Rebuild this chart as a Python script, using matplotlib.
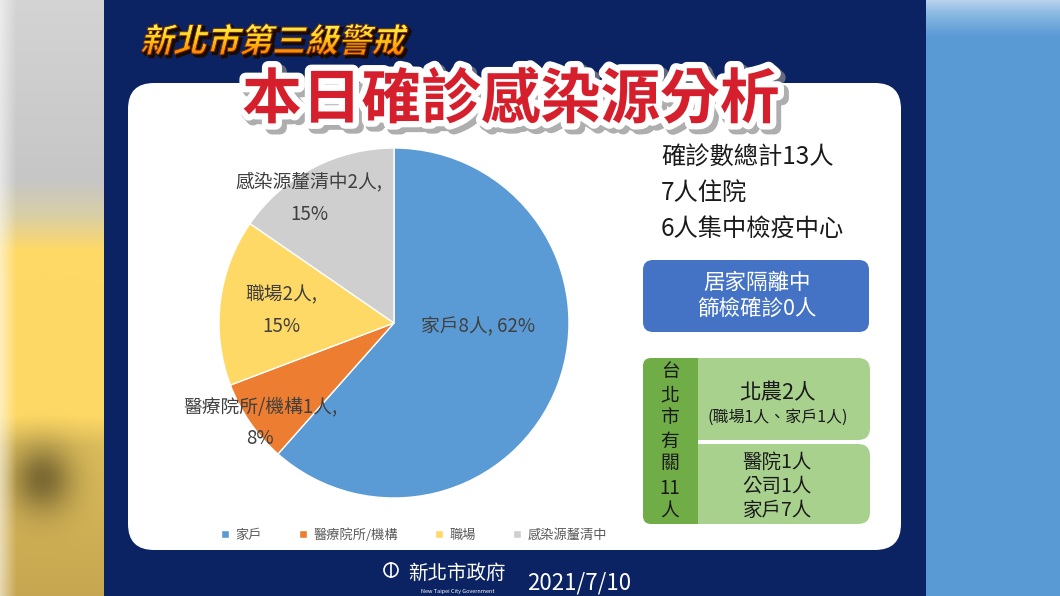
import numpy as np
import matplotlib
matplotlib.use('Agg')
import matplotlib.pyplot as plt
import matplotlib.patheffects as pe
from matplotlib.patches import FancyBboxPatch, PathPatch, Rectangle, Circle
from matplotlib.textpath import TextPath
from matplotlib.font_manager import FontProperties
from matplotlib.transforms import Affine2D
from matplotlib.colors import to_rgb

plt.rcParams['font.family'] = ['Noto Sans CJK TC', 'DejaVu Sans']

# chart data
categories = ['家戶', '醫療院所/機構', '職場', '感染源釐清中']
cases = [8, 1, 2, 2]
slice_colors = ['#5b9bd5', '#ed7d31', '#ffd966', '#cfcfcf']

# side text
subtitle = '新北市第三級警戒'
title = '本日確診感染源分析'
summary_lines = ['確診數總計13人', '7人住院', '6人集中檢疫中心']
quarantine_lines = ['居家隔離中', '篩檢確診0人']
taipei_title = ['台', '北', '市', '有', '關', '11', '人']
beinong_lines = ['北農2人', '(職場1人、家戶1人)']
other_lines = ['醫院1人', '公司1人', '家戶7人']
date_text = '2021/7/10'

W, H = 1060, 596
NAVY = '#0b2362'
TXT = '#404040'

fig = plt.figure(figsize=(W / 100, H / 100), dpi=100)
bg = fig.add_axes([0, 0, 1, 1])
bg.axis('off')
bg.add_patch(Rectangle((0, 0), W, H, color=NAVY, zorder=0))


def ramp(stops, n):
    pos = [p for p, _ in stops]
    cols = np.array([to_rgb(c) for _, c in stops])
    ys = np.arange(n)
    return np.stack([np.interp(ys, pos, cols[:, k]) for k in range(3)], axis=1)


# blurred photo strips on both sides
left_w = 104
col = ramp([(0, '#d4d4d4'), (180, '#c6c6c6'), (215, '#d9cfa6'), (250, '#ffd966'),
            (415, '#ffd966'), (445, '#dcbd5c'), (596, '#c6a650')], H)
img = np.repeat(col[:, None, :], left_w, axis=1)
xx, yy = np.meshgrid(np.arange(left_w), np.arange(H))
blob = np.exp(-((xx - 42) ** 2 / (2 * 22 ** 2) + (yy - 478) ** 2 / (2 * 24 ** 2)))
img = img * (1 - 0.42 * blob)[..., None]
fade = np.clip(1 - xx / 16, 0, 1) * 0.55
img = img * (1 - fade[..., None]) + fade[..., None]
bg.imshow(img, extent=(0, left_w, H, 0), aspect='auto', zorder=1, interpolation='bilinear')

right_x = 926
col = ramp([(0, '#b9d3ec'), (12, '#8dbbe3'), (35, '#5b9bd5'), (596, '#5a9ad4')], H)
img = np.repeat(col[:, None, :], W - right_x, axis=1)
bg.imshow(img, extent=(right_x, W, H, 0), aspect='auto', zorder=1, interpolation='bilinear')

bg.set_xlim(0, W)
bg.set_ylim(H, 0)

# white card
bg.add_patch(FancyBboxPatch((128, 83), 773, 467, boxstyle='round,pad=0,rounding_size=26',
                            facecolor='white', edgecolor='none', zorder=2))

# slanted gradient subtitle
fp = FontProperties(family='Noto Sans CJK TC', weight='bold')
tp = TextPath((0, 0), subtitle, size=33, prop=fp)
tr = Affine2D().skew_deg(14, 0).scale(1, -1).translate(140, 52)
path = tr.transform_path(tp)
shadow = PathPatch(Affine2D().translate(2.5, 2.5).transform_path(path), facecolor='#1a0a00',
                   edgecolor='#1a0a00', lw=1.5, zorder=3)
bg.add_patch(shadow)
face = PathPatch(path, facecolor='none', edgecolor='#7a2e00', lw=0.6, zorder=5)
bg.add_patch(face)
ext = path.get_extents()
grad = ramp([(0, '#fff45a'), (45, '#ffd21a'), (100, '#ff7b00')], 101)[:, None, :]
im = bg.imshow(grad, extent=(ext.x0, ext.x1, ext.y1, ext.y0), aspect='auto', zorder=4,
               interpolation='bilinear')
im.set_clip_path(face)
bg.set_xlim(0, W)
bg.set_ylim(H, 0)

# main title
bg.text(511, 101, title, fontsize=43, fontweight='black', color='#d61f2c', ha='center', va='center',
        zorder=6,
        path_effects=[pe.Stroke(linewidth=10, foreground='#8c8c8c', offset=(3, -3), alpha=0.7),
                      pe.Stroke(linewidth=9, foreground='white'), pe.Normal()])

# pie
pax = fig.add_axes([219 / W, (H - 498) / H, 350 / W, 350 / H])
wedges, _ = pax.pie(cases, colors=slice_colors, startangle=90, counterclock=False,
                    wedgeprops=dict(edgecolor='white', linewidth=1))
pax.set_xlim(-1, 1)
pax.set_ylim(-1, 1)
pax.axis('off')

total = sum(cases)
pcts = [round(100 * c / total) for c in cases]
label_pos = [(478, 327), (260, 407), (281, 295), (309, 182)]
for i, (cat, n, p) in enumerate(zip(categories, cases, pcts)):
    x, y = label_pos[i]
    if i == 0:
        pax.text(x, y, f'{cat}{n}人, {p}%', transform=bg.transData, fontsize=13.5,
                 color=TXT, ha='center', va='center')
    else:
        pax.text(x, y, f'{cat}{n}人,', transform=bg.transData, fontsize=13.5,
                 color=TXT, ha='center', va='center')
        pax.text(x, y + 32, f'{p}%', transform=bg.transData, fontsize=13.5,
                 color=TXT, ha='center', va='center')

fig.legend(wedges, categories, loc='center', bbox_to_anchor=(414 / W, 1 - 535 / H), ncol=4,
           frameon=False, fontsize=9.5, handlelength=0.6, handleheight=0.6, handletextpad=0.5,
           columnspacing=2.8, labelcolor='#595959')

# summary text
for s, y in zip(summary_lines, [158, 193, 229]):
    bg.text(661, y, s, fontsize=17.5, color='#1a1a1a', ha='left', va='center', zorder=3)

bg.add_patch(FancyBboxPatch((643, 260), 226, 72, boxstyle='round,pad=0,rounding_size=10',
                            facecolor='#4472c4', edgecolor='none', zorder=3))
for s, y in zip(quarantine_lines, [283, 309]):
    bg.text(757, y, s, fontsize=15.5, color='white', ha='center', va='center', zorder=4)

bg.add_patch(FancyBboxPatch((643, 358), 227, 82, boxstyle='round,pad=0,rounding_size=12',
                            facecolor='#a9d18e', edgecolor='none', zorder=3))
bg.add_patch(FancyBboxPatch((643, 444), 227, 80, boxstyle='round,pad=0,rounding_size=12',
                            facecolor='#a9d18e', edgecolor='none', zorder=3))
bg.add_patch(FancyBboxPatch((643, 358), 55, 166, boxstyle='round,pad=0,rounding_size=8',
                            facecolor='#70ad47', edgecolor='none', zorder=4))
bg.add_patch(Rectangle((685, 358), 13, 166, facecolor='#70ad47', edgecolor='none', zorder=4))
for s, y in zip(taipei_title, [372, 395, 418, 441, 464, 488, 511]):
    bg.text(670, y, s, fontsize=13.5, color='#1a1a1a', ha='center', va='center', zorder=5)

bg.text(778, 393, beinong_lines[0], fontsize=15.5, color='#1a1a1a', ha='center', va='center', zorder=5)
bg.text(778, 417, beinong_lines[1], fontsize=11.5, color='#1a1a1a', ha='center', va='center', zorder=5)
for s, y in zip(other_lines, [462, 487, 510]):
    bg.text(777, y, s, fontsize=14, color='#1a1a1a', ha='center', va='center', zorder=5)

# footer
bg.add_patch(Circle((391, 570), 7, facecolor='none', edgecolor='white', lw=1.2, zorder=3))
bg.plot([391, 391], [563, 577], color='white', lw=1.2, zorder=3)
bg.text(457, 573, '新北市政府', fontsize=14, color='white', ha='center', va='center',
        fontweight='light', zorder=3)
bg.text(458, 592, 'New Taipei City Government', fontsize=4, color='white', ha='center',
        va='center', zorder=3)
bg.text(579, 583, date_text, fontsize=16, color='white', ha='center', va='center', zorder=3)

fig.savefig('out.png', dpi=100)
